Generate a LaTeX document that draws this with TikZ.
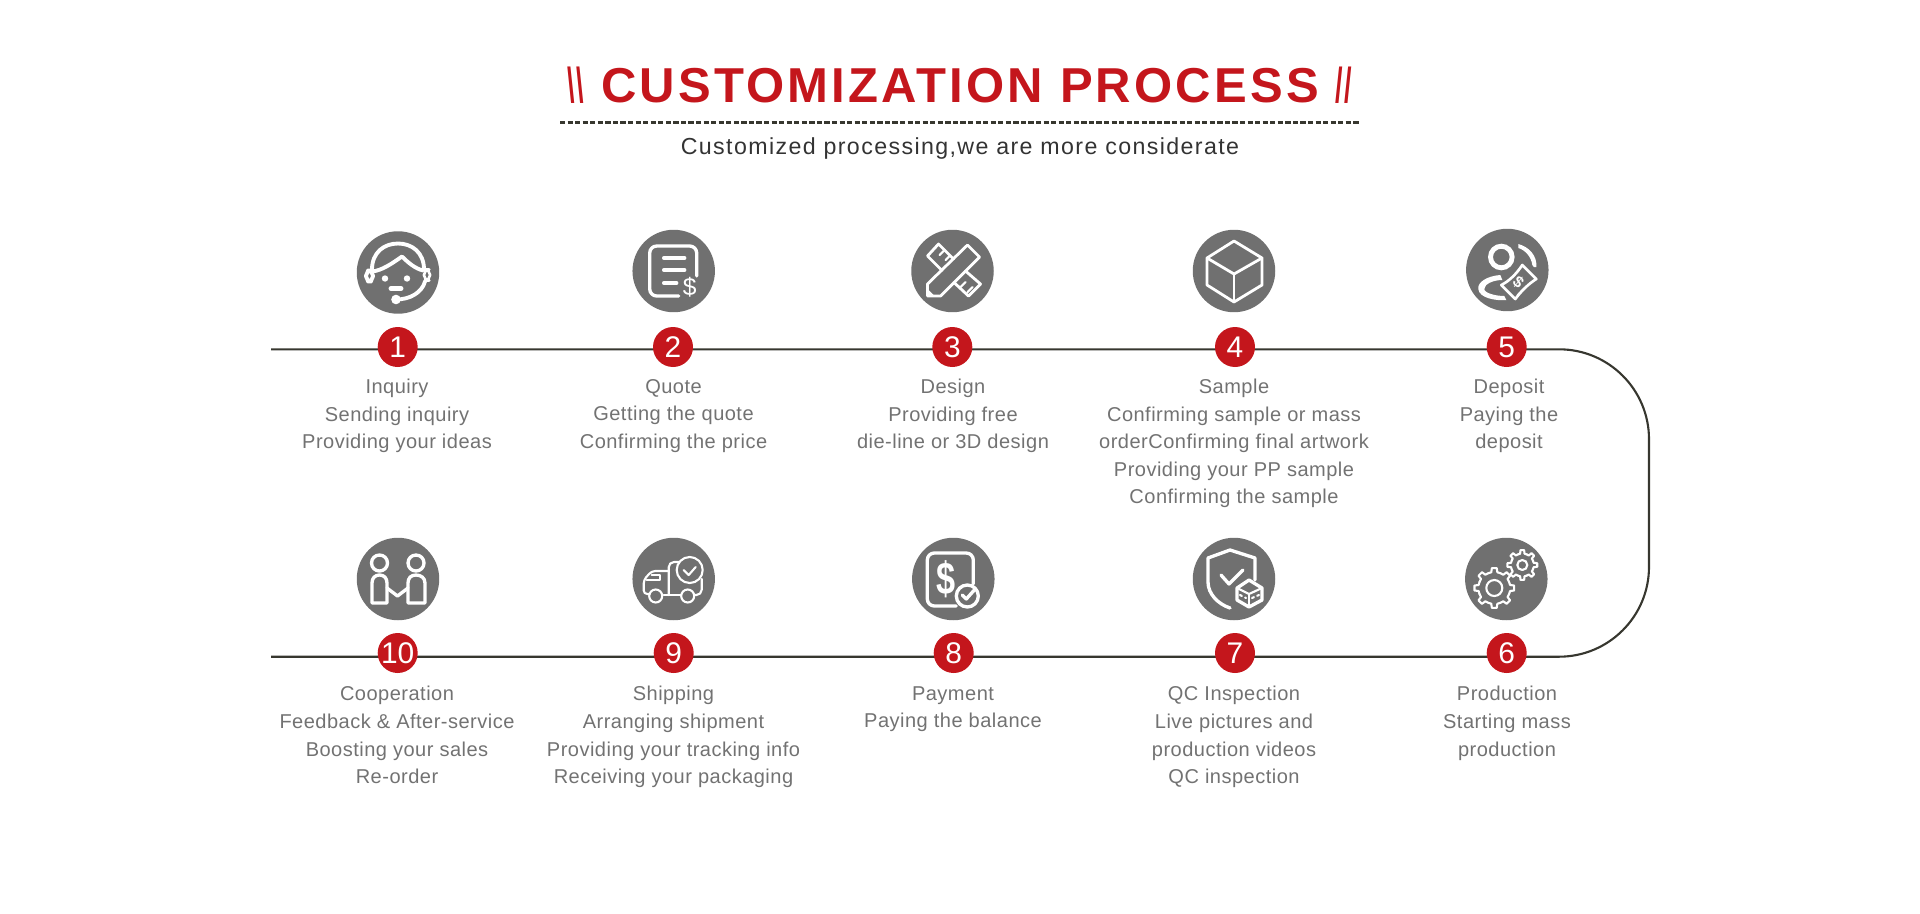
\documentclass[tikz,border=0pt]{standalone}
\usepackage{fontspec}
\usepackage{graphicx}
\setmainfont{Liberation Sans}
\newfontfamily\titlefont[LetterSpace=6.5]{Liberation Sans}
\newfontfamily\subfont[LetterSpace=6]{Liberation Sans}
\newfontfamily\labelfont[LetterSpace=2.4]{Liberation Sans}
\usetikzlibrary{backgrounds}

\definecolor{brandred}{HTML}{C4161C}
\definecolor{icongray}{HTML}{707070}
\definecolor{labelgray}{HTML}{727272}
\definecolor{linedark}{HTML}{37372F}

\tikzset{
  iconbg/.style={circle, fill=icongray, minimum size=1.65cm, inner sep=0pt},
  numbadge/.style={circle, fill=brandred, text=white, minimum size=0.8cm, inner sep=0pt, font=\fontsize{17}{17}\selectfont},
  steptext/.style={anchor=north, inner sep=0pt, align=center, text=labelgray, font=\labelfont\fontsize{11.4}{15.7}\selectfont},
  timeline/.style={draw=linedark, line width=1.2pt, rounded corners=1.8cm},
  iconline/.style={draw=white, line width=1.9pt, line cap=round, line join=round},
  iconthin/.style={draw=white, line width=1.2pt, line cap=round, line join=round},
  icontext/.style={text=white, inner sep=0pt}
}

% one tooth ring: centre, inner radius, outer radius
\newcommand{\gearring}[3]{
  \foreach \a in {0,45,...,315} {
    \draw[iconthin, shift={(#1)}] (\a-22.5:#2) -- (\a-11:#2) -- (\a-7:#3) -- (\a+7:#3) -- (\a+11:#2) -- (\a+22.5:#2);
  }
}

\begin{document}
\begin{tikzpicture}[x=0.02cm, y=-0.02cm]
  \useasboundingbox (0,0) rectangle (1920,913);

  % heading
  \node[inner sep=0pt, text=brandred, font=\titlefont\bfseries\fontsize{27.9}{30}\selectfont] (title) at (960,85)
    {\scalebox{0.55}[1]{\textbackslash\textbackslash} CUSTOMIZATION PROCESS \scalebox{0.55}[1]{//}};
  \coordinate (ruleleft) at (560,122.5);
  \coordinate (ruleright) at (1360,122.5);
  \draw[linedark, line width=1.4pt, dash pattern=on 3pt off 1.3pt] (ruleleft) -- (ruleright);
  \node[inner sep=0pt, text=black!80, font=\subfont\fontsize{13.2}{16}\selectfont] (subtitle) at (960,149) {Customized processing,we are more considerate};

  % icon discs
  \node[iconbg] (icon1) at (398,272.5) {};
  \node[iconbg] (icon2) at (673.7,271) {};
  \node[iconbg] (icon3) at (952.5,271) {};
  \node[iconbg] (icon4) at (1234,271) {};
  \node[iconbg] (icon5) at (1507.3,270) {};
  \node[iconbg] (icon6) at (1506.3,579) {};
  \node[iconbg] (icon7) at (1234,579) {};
  \node[iconbg] (icon8) at (953.3,579) {};
  \node[iconbg] (icon9) at (673.7,579) {};
  \node[iconbg] (icon10) at (398,579) {};

  % number badges
  \node[numbadge] (num1) at (397.7,347) {1};
  \node[numbadge] (num2) at (673,347) {2};
  \node[numbadge] (num3) at (952.3,347) {3};
  \node[numbadge] (num4) at (1235,347) {4};
  \node[numbadge] (num5) at (1506.7,347) {5};
  \node[numbadge] (num6) at (1506.7,653) {6};
  \node[numbadge] (num7) at (1235,653) {7};
  \node[numbadge] (num8) at (953.7,653) {8};
  \node[numbadge] (num9) at (673.7,653) {9};
  \node[numbadge] (num10) at (397.7,653) {10};

  % timeline behind the badges
  \coordinate (linestart) at (271,349.3);
  \coordinate (lineend) at (271,656.7);
  \coordinate (cornertop) at (1649,349.3);
  \coordinate (cornerbot) at (1649,656.7);
  \begin{scope}[on background layer]
    \draw[timeline] (linestart) -- (cornertop) -- (cornerbot) -- (lineend);
  \end{scope}

  % step texts
  \node[steptext] (text1) at (397,378.7) {Inquiry\\Sending inquiry\\Providing your ideas};
  \node[steptext] (text2) at (673.5,378.7) {Quote\\Getting the quote\\Confirming the price};
  \node[steptext] (text3) at (953,378.7) {Design\\Providing free\\die-line or 3D design};
  \node[steptext] (text4) at (1234,378.7) {Sample\\Confirming sample or mass\\orderConfirming final artwork\\Providing your PP sample\\Confirming the sample};
  \node[steptext] (text5) at (1509,378.7) {Deposit\\Paying the\\deposit};
  \node[steptext] (text6) at (1507,686) {Production\\Starting mass\\production};
  \node[steptext] (text7) at (1234,686) {QC Inspection\\Live pictures and\\production videos\\QC inspection};
  \node[steptext] (text8) at (953,686) {Payment\\Paying the balance};
  \node[steptext] (text9) at (673.5,686) {Shipping\\Arranging shipment\\Providing your tracking info\\Receiving your packaging};
  \node[steptext] (text10) at (397,686) {Cooperation\\Feedback \& After-service\\Boosting your sales\\Re-order};

  % headset
  \begin{scope}[shift={(icon1.center)}]
    \draw[iconline, line width=2.2pt] (-26,-3) .. controls (-26,-20) and (-14,-29) .. (0,-29) .. controls (14,-29) and (26,-20) .. (26,-3);
    \draw[iconline, line width=2.2pt] (-26,-1) .. controls (-16,-2) and (-6,-9) .. (4,-16) .. controls (10,-10) and (17,-4) .. (25,-2);
    \draw[iconline, line width=2.2pt, rounded corners=3] (-32,-2) rectangle (-25,9);
    \draw[iconline, line width=1.5pt, rounded corners=3] (26,-3) rectangle (32,8);
    \fill[white] (-13,6) circle (3.2);
    \fill[white] (9,6) circle (3.2);
    \draw[iconline, line width=2.8pt] (-7,16) -- (3,16);
    \draw[iconline, line width=2.2pt] (27,9) .. controls (24,20) and (12,27) .. (-2,27);
    \fill[white] (-2,27) circle (4.8);
  \end{scope}

  % quote sheet
  \begin{scope}[shift={(icon2.center)}]
    \draw[iconline, rounded corners=4] (23,5) -- (23,-25) -- (-24,-25) -- (-24,25) -- (5,25);
    \draw[iconline] (-10,-13) -- (11,-13);
    \draw[iconline] (-10,-1) -- (11,-1);
    \draw[iconline] (-10,12) -- (3,12);
    \node[icontext, font=\fontsize{14}{14}\selectfont] (dollar2) at (16,16) {\$};
  \end{scope}

  % pencil and ruler
  \begin{scope}[shift={(icon3.center)}]
    \draw[iconline, line width=1.6pt] (15,-26) -- (27,-14) -- (-12,25) -- (-25,25) -- (-25,13) -- cycle;
    \fill[white] (-25,25) -- (-25,18) -- (-18,25) -- cycle;
    \draw[iconline, line width=1.6pt] (-10.5,-0.5) -- (-25,-15) -- (-14,-27) -- (1,-12);
    \draw[iconline, line width=1.6pt] (1.5,11.5) -- (16,25) -- (28,13) -- (13,0);
    \draw[iconthin] (-8,-21) -- (-13,-16);
    \draw[iconthin] (-3,-15) -- (-7,-11);
    \draw[iconthin] (13,11) -- (8,16);
    \draw[iconthin] (20,16) -- (15,21);
  \end{scope}

  % carton
  \begin{scope}[shift={(icon4.center)}]
    \draw[iconline, line width=1.6pt] (0,-30) -- (28,-13) -- (28,14) -- (0,31) -- (-27,14) -- (-27,-13) -- cycle;
    \draw[iconline, line width=1.6pt] (-27,-13) -- (0,3) -- (28,-13);
    \draw[iconline, line width=1.6pt] (0,3) -- (0,31);
  \end{scope}

  % person with banknote
  \begin{scope}[shift={(icon5.center)}]
    \draw[white, line width=2.8pt] (-6,-13) circle (10.8);
    \fill[white] (11,-26) .. controls (22,-23) and (30,-14) .. (29,-3) .. controls (27,-2) and (26,-3) .. (25,-5) .. controls (24,-13) and (18,-20) .. (11,-22) -- cycle;
    \fill[white] (-7,5) .. controls (-20,6) and (-30,12) .. (-29,19) .. controls (-28,28) and (-12,31) .. (-1,30) -- (-3,26) .. controls (-12,26) and (-23,23) .. (-23,19) .. controls (-23,14) and (-14,10) .. (-5,10) -- cycle;
    \draw[iconthin, fill=icongray, line width=1.5pt] (-6,15) .. controls (2,11) and (9,4) .. (15,-5) -- (29,9) .. controls (21,14) and (14,21) .. (8,29) -- cycle;
    \draw[iconthin, line width=0.7pt] (12,0) -- (6,6);
    \draw[iconthin, line width=0.7pt] (10,25) -- (17,18);
    \node[icontext, rotate=-40, font=\bfseries\fontsize{9}{9}\selectfont] (dollar5) at (11,12) {\$};
  \end{scope}

  % gears
  \begin{scope}[shift={(icon6.center)}]
    \gearring{-12,9}{16}{20}
    \draw[iconthin] (-12,9) circle (8);
    \gearring{16,-14}{11.5}{15}
    \draw[iconthin] (16,-14) circle (5);
  \end{scope}

  % shield with box
  \begin{scope}[shift={(icon7.center)}]
    \draw[iconline] (21,1) -- (21,-21) -- (-4,-29) -- (-26,-21) -- (-26,3) .. controls (-26,15) and (-16,25) .. (-4,29);
    \draw[iconline] (-13,-4) -- (-5,5) -- (9,-9);
    \draw[iconline, fill=icongray] (15,1) -- (28,9) -- (28,21) -- (15,28) -- (3,21) -- (3,9) -- cycle;
    \draw[iconthin] (3,9) -- (15,15) -- (28,9);
    \draw[iconthin] (15,15) -- (15,28);
    \draw[iconthin, dotted] (6,16) -- (12,19);
    \draw[iconthin, dotted] (18,19) -- (25,16);
  \end{scope}

  % paid bill
  \begin{scope}[shift={(icon8.center)}]
    \draw[iconline, rounded corners=4] (3,27) -- (-26,27) -- (-26,-26) -- (20,-26) -- (20,5);
    \node[icontext, font=\bfseries\fontsize{26}{26}\selectfont] (dollar8) at (-7,0) {\scalebox{0.75}[1]{\$}};
    \draw[iconline, fill=icongray] (14,17) circle (11);
    \draw[iconline] (9,16) -- (13,20) -- (21,11);
  \end{scope}

  % truck
  \begin{scope}[shift={(icon9.center)}]
    \draw[iconthin, rounded corners=3] (5,-17) -- (-5,-17) -- (-5,16);
    \draw[iconthin] (-10,16) -- (7,16);
    \draw[iconthin, rounded corners=3] (28,0) -- (28,16) -- (21,16);
    \draw[iconthin, rounded corners=2] (-5,-8) -- (-22,-8) -- (-30,1) -- (-30,15) -- (-24,15);
    \draw[iconthin] (-27,1) -- (-14,1) -- (-14,-4) -- (-22,-4);
    \draw[iconthin] (-18,17) circle (6.5);
    \draw[iconthin] (14,17) circle (6.5);
    \draw[iconthin, fill=icongray] (16,-9) circle (13);
    \draw[iconthin] (10,-9) -- (15,-4) -- (22,-12);
  \end{scope}

  % handshake
  \begin{scope}[shift={(icon10.center)}]
    \draw[iconline] (-18.5,-16) circle (8);
    \draw[iconline] (18,-16) circle (8);
    \draw[iconline] (-26,24) -- (-26,4) .. controls (-26,-1) and (-23,-4) .. (-18.5,-4) .. controls (-14,-4) and (-11,-1) .. (-11,4) -- (-11,24) -- cycle;
    \draw[iconline] (10,24) -- (10,4) .. controls (10,-1) and (13,-4) .. (18,-4) .. controls (23,-4) and (27,-1) .. (27,4) -- (27,24) -- cycle;
    \draw[iconline] (-11,9) -- (-0.5,17) -- (10,9);
  \end{scope}
\end{tikzpicture}
\end{document}
